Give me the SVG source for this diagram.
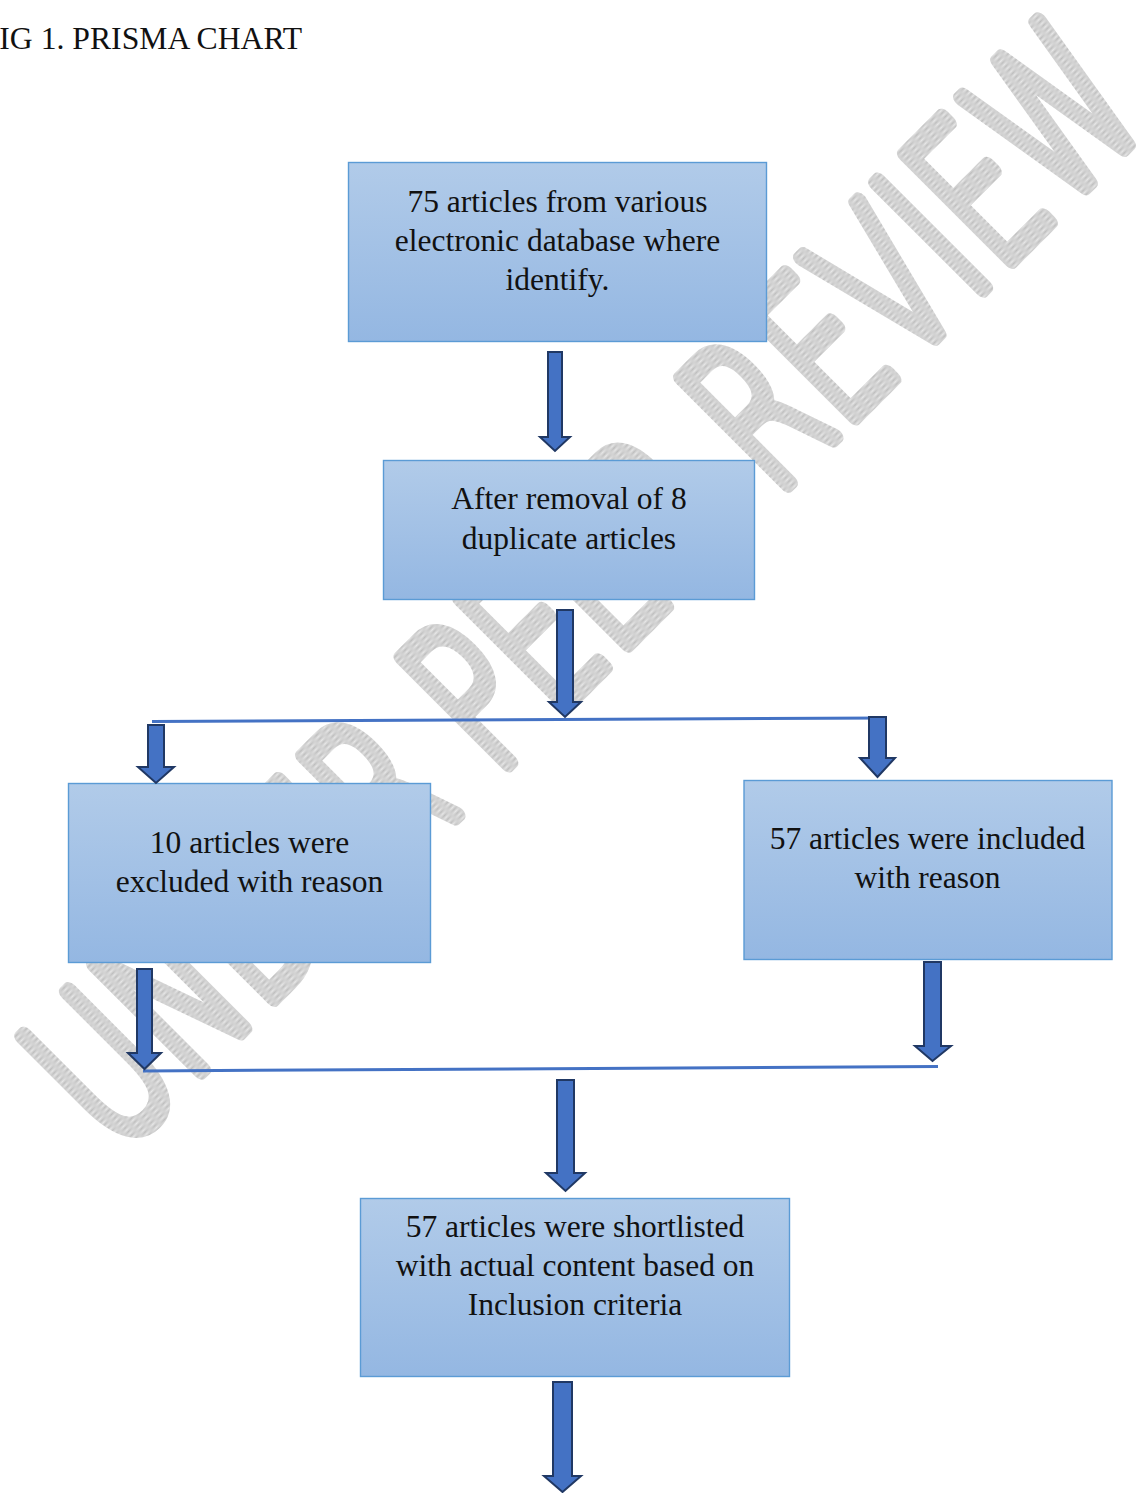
<svg xmlns="http://www.w3.org/2000/svg" width="1138" height="1493" viewBox="0 0 1138 1493">
<defs>
<linearGradient id="boxfill" x1="0" y1="0" x2="0" y2="1">
<stop offset="0" stop-color="#b1cbe9"/>
<stop offset="1" stop-color="#94b7e2"/>
</linearGradient>
<pattern id="hatch" width="2" height="2" patternUnits="userSpaceOnUse">
<rect width="2" height="2" fill="#e8e8e8"/>
<rect width="1" height="1" fill="#bdbdbd"/>
<rect x="1" y="1" width="1" height="1" fill="#bdbdbd"/>
</pattern>
<style>
.box{fill:url(#boxfill);stroke:#5b9bd5;stroke-width:1.4}
.lbl{font-family:"Liberation Serif","Times New Roman",serif;font-size:31.5px;fill:#111;text-anchor:middle}
.arr{fill:#4472c4;stroke:#203864;stroke-width:2;stroke-linejoin:miter}
.ln{stroke:#4472c4;stroke-width:3;fill:none}
.wm{font-family:"DejaVu Sans","Liberation Sans",sans-serif;font-weight:200;font-size:206px;fill:url(#hatch);stroke:url(#hatch);stroke-width:14;stroke-linejoin:round;stroke-linecap:round;text-anchor:middle;vector-effect:non-scaling-stroke}
</style>
</defs>
<rect width="1138" height="1493" fill="#ffffff"/>
<g id="watermark">
<text class="wm" transform="translate(636,636) rotate(-45) scale(0.665,1)" textLength="2210" lengthAdjust="spacingAndGlyphs">UNDER PEER REVIEW</text>
</g>
<g id="title">
<text x="302" y="49" font-family="Liberation Serif,Times New Roman,serif" font-size="31.7" text-anchor="end" fill="#111">IG 1. PRISMA CHART</text>
</g>
<g id="box1">
<rect class="box" x="348.5" y="162.5" width="418" height="179"/>
<text class="lbl" x="557.5" y="212">75 articles from various</text>
<text class="lbl" x="557.5" y="251">electronic database where</text>
<text class="lbl" x="557.5" y="290">identify.</text>
</g>
<g id="box2">
<rect class="box" x="383.5" y="460.5" width="371" height="139"/>
<text class="lbl" x="569" y="509">After removal of 8</text>
<text class="lbl" x="569" y="548.5">duplicate articles</text>
</g>
<g id="box3">
<rect class="box" x="68.5" y="783.5" width="362" height="179"/>
<text class="lbl" x="249.5" y="853">10 articles were</text>
<text class="lbl" x="249.5" y="891.5">excluded with reason</text>
</g>
<g id="box4">
<rect class="box" x="744" y="780.5" width="368" height="179"/>
<text class="lbl" x="927.5" y="848.5">57 articles were included</text>
<text class="lbl" x="927.5" y="887.5">with reason</text>
</g>
<g id="box5">
<rect class="box" x="360.5" y="1198.5" width="429" height="178"/>
<text class="lbl" x="575" y="1237">57 articles were shortlisted</text>
<text class="lbl" x="575" y="1276">with actual content based on</text>
<text class="lbl" x="575" y="1315">Inclusion criteria</text>
</g>
<g id="connectors">
<line class="ln" x1="152" y1="721.5" x2="886" y2="718"/>
<line class="ln" x1="143" y1="1071" x2="938" y2="1066.5"/>
<polygon class="arr" points="548,352 562,352 562,437 570,437 555,451 540,437 548,437"/>
<polygon class="arr" points="557,610 573,610 573,702 581,702 565,717 549,702 557,702"/>
<polygon class="arr" points="148,725 164,725 164,767 174,767 156,783 138,767 148,767"/>
<polygon class="arr" points="869,717 886,717 886,758 895,758 877.5,777 860,758 869,758"/>
<polygon class="arr" points="137,969 152,969 152,1053 161,1053 144.5,1069 128,1053 137,1053"/>
<polygon class="arr" points="924,962 941,962 941,1046 951,1046 932.5,1061 915,1046 924,1046"/>
<polygon class="arr" points="557,1080 574,1080 574,1173 585,1173 565.5,1191 546,1173 557,1173"/>
<polygon class="arr" points="553,1382 572,1382 572,1476 581,1476 562.5,1492 544,1476 553,1476"/>
</g>
</svg>
